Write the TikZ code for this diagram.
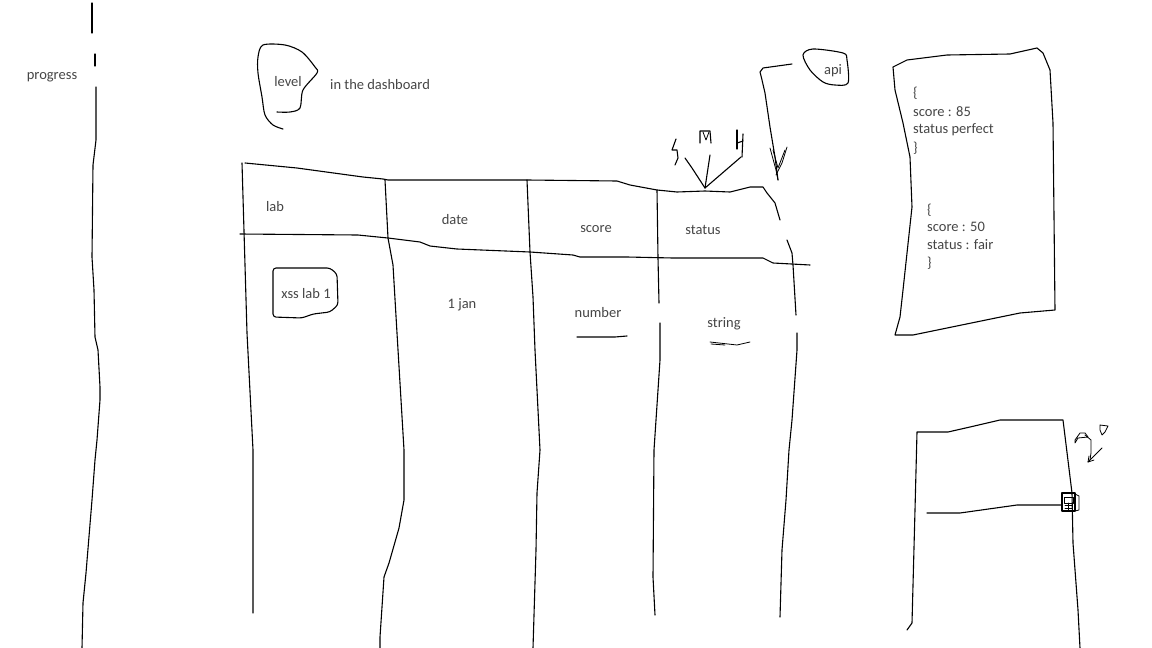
\documentclass[tikz,border=0pt]{standalone}
\usepackage{fontspec}
\setmainfont{Carlito}
\usetikzlibrary{positioning}
\definecolor{inkgray}{RGB}{70,70,70}

\begin{document}
\begin{tikzpicture}[
    x=1pt, y=-1pt, % pixel units, y pointing down
    pen/.style={line width=1.1pt, line join=round, line cap=round}, % hand drawn strokes
    thinpen/.style={line width=0.8pt, line join=round, line cap=round},
    txt/.style={text=inkgray, font=\fontsize{14.5}{17}\selectfont, inner sep=0pt}
]

    % Canvas
    \fill[white] (0,0) rectangle (1152,648);
    \useasboundingbox (0,0) rectangle (1152,648);

    % Progress side bar
    \node[txt] (progress) at (52,77) {progress};
    \draw[pen] (92,3) -- (92,33);
    \draw[pen] (95,54) -- (95,66);
    \draw[pen] (96,87) -- (96,140) -- (93,165) -- (92,257) -- (94,290) -- (95,337)
        -- (98,350) -- (100,387) -- (100,400) -- (97,440) -- (95,460) -- (92,500)
        -- (86,573) -- (83,603) -- (82,648);

    % Level bubble
    \node[txt] (level) at (288,82) {level};
    \node[txt, anchor=west] (dashboard) at (330,85) {in the dashboard};
    \draw[pen] plot[smooth, tension=0.5] coordinates {(277,112) (290,112) (300,108)
        (303,90) (317,73) (315,67) (302,52) (285,45) (263,45) (258,57) (258,73)
        (262,97) (265,115) (273,125) (283,129)};

    % Api bubble
    \node[txt] (api) at (833,71) {api};
    \draw[pen] plot[smooth cycle, tension=0.5] coordinates {(803,55) (813,49) (843,53)
        (847,60) (848,83) (835,85) (823,82) (810,70)};

    % Table outline
    \draw[pen] (245,163) -- (297,168) -- (363,177) -- (383,179) -- (388,180)
        -- (527,180) -- (617,181) -- (630,185) -- (657,190) -- (677,192)
        -- (705,191) -- (730,192) -- (750,187) -- (763,187) -- (767,193)
        -- (775,203) -- (780,220);
    \draw[pen] (787,240) -- (792,253) -- (793,265) -- (796,315);
    \draw[pen] (797,333) -- (797,350) -- (792,420) -- (789,450) -- (786,500)
        -- (782,550) -- (780,617);
    % Header separator
    \draw[pen] (240,234) -- (358,235) -- (388,238) -- (420,242) -- (430,246)
        -- (457,249) -- (530,252) -- (573,255) -- (580,257) -- (627,257)
        -- (673,258) -- (763,258) -- (773,263) -- (810,265);
    % Column lines
    \draw[pen] (242,163) -- (247,333) -- (253,450) -- (253,613);
    \draw[pen] (385,180) -- (388,238) -- (393,265) -- (397,333) -- (404,450)
        -- (404,500) -- (399,528) -- (389,563) -- (384,577) -- (380,637) -- (380,648);
    \draw[pen] (527,180) -- (530,252) -- (533,297) -- (535,350) -- (540,450)
        -- (537,493) -- (536,550) -- (533,648);
    \draw[pen] (657,190) -- (658,258) -- (659,303);
    \draw[pen] (660,323) -- (660,360) -- (654,450) -- (653,577) -- (655,615);

    % Header cells
    \node[txt] (lab) at (275,207) {lab};
    \node[txt] (date) at (455,220) {date};
    \node[txt] (score) at (596,229) {score};
    \node[txt] (status) at (703,230) {status};

    % Row cells
    \node[txt] (xsslab) at (306,294) {xss lab 1};
    \draw[pen, rounded corners=3pt] (273,268) -- (330,268) -- (337,274) -- (338,305)
        -- (330,312) -- (313,314) -- (302,318) -- (273,317) -- cycle;
    \node[txt] (jan) at (462,305) {1 jan};
    \node[txt] (number) at (598,313) {number};
    \draw[pen] (577,337) -- (615,337) -- (627,336);
    \node[txt] (string) at (724,324) {string};
    \draw[thinpen] (710,342) -- (737,345) -- (750,342);
    \draw[thinpen] (711,344) -- (725,345);

    % S M H scribble pointing at the status column
    \draw[pen] (676,139) -- (672,150) -- (677,150) -- (678,158) -- (675,165);
    \draw[pen] (700,143) -- (700,131) -- (710,131) -- (711,143);
    \draw[thinpen] (703,132) -- (706,140) -- (709,132);
    \draw[pen] (737,130) -- (737,149);
    \draw[pen] (737,143) -- (743,141);
    \draw[pen] (743,134) -- (742,157);
    \coordinate (smhS) at (685,158);
    \coordinate (smhM) at (710,155);
    \coordinate (smhH) at (741,157);
    \coordinate (statusTop) at (705,188);
    \draw[pen] (smhS) -- (692,168) -- (statusTop);
    \draw[pen] (smhM) -- (statusTop);
    \draw[pen] (smhH) -- (statusTop);

    % Api arrow
    \coordinate (apiTail) at (792,64);
    \coordinate (apiTip) at (778,180);
    \draw[pen] (apiTail) -- (763,68) -- (760,72) -- (762,80) -- (765,93)
        -- (770,127) -- (775,157) -- (apiTip);
    \draw[thinpen] (770,148) -- (776,170) -- (apiTip);
    \draw[thinpen] (787,147) -- (782,163) -- (776,175);
    \draw[thinpen] (773,150) -- (778,168) -- (785,150);

    % Json samples
    \draw[pen] (893,67) -- (907,60) -- (947,55) -- (1010,54) -- (1037,48)
        -- (1043,53) -- (1050,70) -- (1053,123) -- (1055,310) -- (1020,313)
        -- (913,335) -- (895,335) -- (900,317) -- (903,290) -- (912,207)
        -- (910,157) -- (903,123) -- (895,90) -- cycle;
    \foreach \ty/\jtext [count=\i] in {93/\{, 112/score : 85, 130/status perfect, 148/\}}
        \node[txt, anchor=west] (jsonA\i) at (913,\ty) {\jtext};
    \foreach \ty/\jtext [count=\i] in {210/\{, 227/score : 50, 245/status : fair, 263/\}}
        \node[txt, anchor=west] (jsonB\i) at (927,\ty) {\jtext};

    % Door sketch
    \draw[pen] (907,630) -- (912,623) -- (915,510) -- (917,432) -- (948,432)
        -- (970,427) -- (1000,420) -- (1063,420) -- (1072,493) -- (1073,543)
        -- (1078,610) -- (1080,648);
    \coordinate (doorMid) at (927,513);
    \draw[pen] (doorMid) -- (960,513) -- (1017,505) -- (1062,505);
    % Handle
    \draw[pen] (1062,493) rectangle (1075,511);
    \draw[thinpen] (1064,497) rectangle (1073,503);
    \draw[thinpen] (1065,505) -- (1072,505) (1065,508) -- (1072,508)
        (1068,503) -- (1068,511);
    \draw[thinpen] (1075,494) -- (1079,496) -- (1079,510) -- (1075,511);
    % Scribble near handle
    \draw[thinpen] (1075,443) -- (1075,440) -- (1080,433) -- (1085,433) -- (1088,437)
        -- (1078,438) -- (1075,443);
    \draw[thinpen] (1085,435) -- (1091,440) -- (1091,453) -- (1090,460);
    \draw[thinpen] (1100,430) -- (1100,425) -- (1108,426) -- (1105,432) -- (1102,435) -- (1100,430);
    \draw[thinpen] (1102,448) -- (1088,462);
    \draw[thinpen] (1088,462) -- (1089,456) (1088,462) -- (1094,460);

\end{tikzpicture}
\end{document}
